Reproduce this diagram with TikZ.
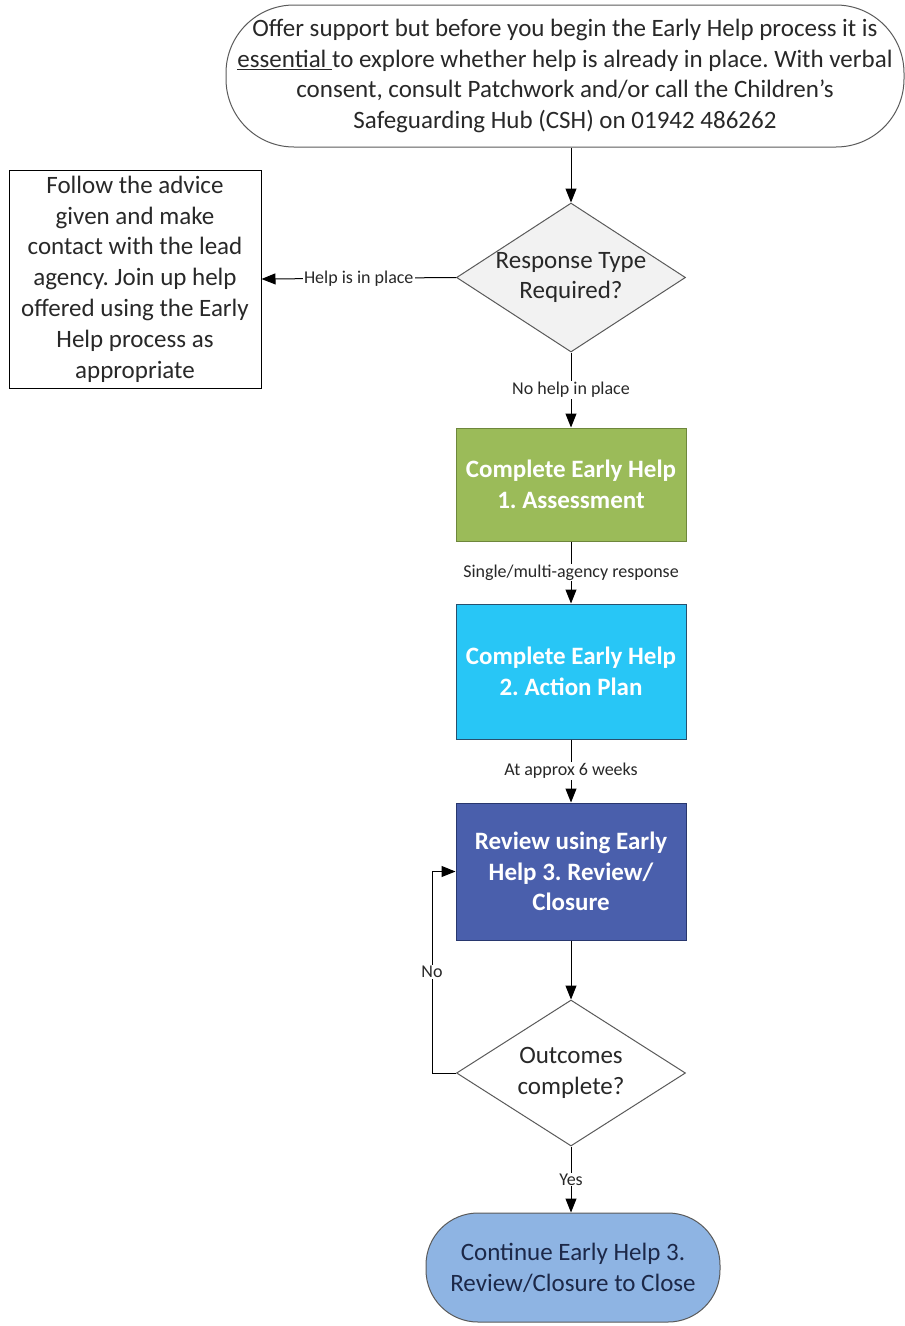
\documentclass[tikz,border=0pt]{standalone}
\usepackage{fontspec}
\setmainfont{Carlito}
\usetikzlibrary{shapes.geometric,arrows.meta}
\definecolor{txt}{RGB}{40,40,40}
\definecolor{edge}{RGB}{90,90,90}
\definecolor{greenfill}{RGB}{155,187,89}
\definecolor{greenedge}{RGB}{110,135,60}
\definecolor{cyanfill}{RGB}{40,198,246}
\definecolor{cyanedge}{RGB}{40,80,110}
\definecolor{bluefill}{RGB}{74,95,172}
\definecolor{blueedge}{RGB}{40,55,110}
\definecolor{endfill}{RGB}{142,180,227}
\definecolor{endtxt}{RGB}{28,40,72}
\definecolor{grayfill}{RGB}{242,242,242}
\begin{document}
\frenchspacing
\begin{tikzpicture}[x=1pt,y=-1pt,
  maintxt/.style={font=\fontsize{25}{30.8}\selectfont, text=txt, align=center},
  boldtxt/.style={font=\fontsize{25}{30.8}\selectfont\bfseries, text=white, align=center},
  procbox/.style={draw, line width=1pt, minimum width=230pt, inner sep=0pt},
  decision/.style={diamond, draw=edge, line width=1pt, minimum width=229pt, inner sep=0pt},
  lbl/.style={fill=white, inner sep=1pt, font=\fontsize{18}{20}\selectfont, text=txt},
  arr/.style={line width=1pt, -{Triangle[length=14pt,width=11pt]}},
  ln/.style={line width=1pt}]
\useasboundingbox (0,0) rectangle (905,1326);

\node[draw=edge, line width=1pt, rounded corners=68pt, minimum width=678pt, minimum height=142pt, inner sep=0pt, maintxt] (start) at (565,76)
  {Offer support but before you begin the Early Help process it is\\
   \underline{essential\ }to explore whether help is already in place. With verbal\\
   consent, consult Patchwork and/or call the Children’s\\
   Safeguarding Hub (CSH) on 01942 486262};

\node[decision, fill=grayfill, minimum height=149pt] (d1) at (571,277.5) {};
\node[maintxt] (d1t) at (d1) {Response Type\\Required?};

\node[draw=black, line width=1pt, minimum width=252pt, minimum height=218pt, inner sep=0pt, maintxt] (help) at (135,279)
  {Follow the advice\\given and make\\contact with the lead\\agency. Join up help\\offered using the Early\\Help process as\\appropriate};

\node[procbox, draw=greenedge, fill=greenfill, minimum height=113pt, boldtxt] (a1) at (571,484.5) {Complete Early Help\\1. Assessment};
\node[procbox, draw=cyanedge, fill=cyanfill, minimum height=135pt, boldtxt] (a2) at (571,671.5) {Complete Early Help\\2. Action Plan};
\node[procbox, draw=blueedge, fill=bluefill, minimum height=137pt, boldtxt] (a3) at (571,871.5) {Review using Early\\Help 3. Review/\\Closure};

\node[decision, fill=white, minimum height=146pt] (d2) at (571,1073) {};
\node[maintxt] (d2t) at (d2) {Outcomes\\complete?};

\node[draw=edge, line width=1pt, fill=endfill, rounded corners=52pt, minimum width=294pt, minimum height=109pt, inner sep=0pt, maintxt, text=endtxt] (stop) at (573,1267.5)
  {Continue Early Help 3.\\Review/Closure to Close};

\draw[arr] (start.south -| d1.north) -- (d1.north);
\draw[arr] (d1.west) -- node[lbl]{Help is in place} (help.east);
\draw[arr] (d1.south) -- node[lbl]{No help in place} (a1.north);
\draw[arr] (a1.south) -- node[lbl]{Single/multi-agency response} (a2.north);
\draw[arr] (a2.south) -- node[lbl]{At approx 6 weeks} (a3.north);
\draw[arr] (a3.south) -- (d2.north);
\coordinate (noturn) at (432,1073);
\draw[arr] (d2.west) -- (noturn) |- node[lbl, pos=0.25]{No} (a3.west);
\draw[arr] (d2.south) -- node[lbl]{Yes} (stop.north -| d2.south);
\end{tikzpicture}
\end{document}
